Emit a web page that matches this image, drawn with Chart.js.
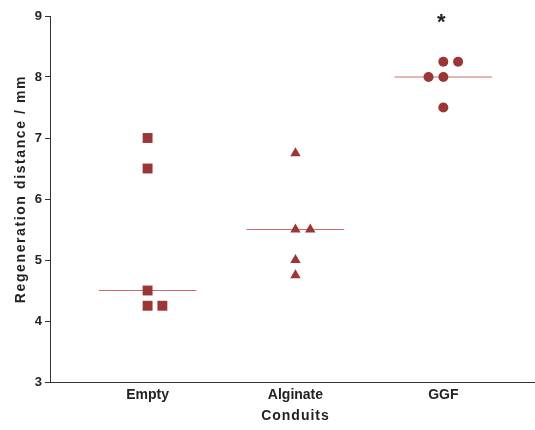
<!DOCTYPE html>
<html>
<head>
<meta charset="utf-8">
<script src="https://cdn.jsdelivr.net/npm/chart.js@4.4.1/dist/chart.umd.min.js"></script>
<style>
  html, body { margin: 0; padding: 0; background: #fff; overflow: hidden; }
  canvas { display: block; }
</style>
</head>
<body>
<canvas id="c" width="535" height="430" style="width:535px;height:430px"></canvas>
<script>
const categories = ['Empty', 'Alginate', 'GGF'];
const emptyValues = [7, 6.5, 4.5, 4.25, 4.25];
const emptyJitter = [0, 0, 0, 0, 0.1];
const alginateValues = [6.75, 5.5, 5.5, 5.0, 4.75];
const alginateJitter = [0, 0, 0.1, 0, 0];
const ggfValues = [8.25, 8.25, 8.0, 8.0, 7.5];
const ggfJitter = [0, 0.1, -0.1, 0, 0];
const medians = [4.5, 5.5, 8.0];
const yTicks = [3, 4, 5, 6, 7, 8, 9];
const yTitle = 'Regeneration distance / mm';
const xTitle = 'Conduits';
const significance = [{ category: 'GGF', label: '*', y: 8.97 }];

const markerColor = '#9c3535';
const medianColor = '#cc6a6a';
const axisColor = '#333333';
const FONT = '"Liberation Sans", Arial, sans-serif';

function pts(cat, vals, jit) {
  const i = categories.indexOf(cat) + 1;
  return vals.map((v, k) => ({ x: i + jit[k], y: v }));
}
function medianLine(k) {
  const i = k + 1;
  return {
    type: 'line',
    data: [{ x: i - 0.33, y: medians[k] }, { x: i + 0.33, y: medians[k] }],
    borderColor: medianColor,
    borderWidth: 1,
    pointRadius: 0,
    showLine: true,
    order: 2
  };
}

const textPlugin = {
  id: 'texts',
  afterDraw(chart) {
    const { ctx, scales } = chart;
    ctx.save();
    ctx.fillStyle = '#222';
    ctx.font = 'bold 14px ' + FONT;
    if ('letterSpacing' in ctx) ctx.letterSpacing = '1.6px';
    ctx.textAlign = 'center';
    ctx.textBaseline = 'middle';
    ctx.translate(21, 189);
    ctx.rotate(-Math.PI / 2);
    ctx.fillText(yTitle, 0, 0);
    ctx.restore();

    ctx.save();
    ctx.fillStyle = '#222';
    ctx.font = 'bold 14px ' + FONT;
    if ('letterSpacing' in ctx) ctx.letterSpacing = '1px';
    ctx.textAlign = 'center';
    ctx.textBaseline = 'middle';
    ctx.fillText(xTitle, scales.x.getPixelForValue(2), 416);
    ctx.restore();

    ctx.save();
    ctx.fillStyle = '#222';
    ctx.font = 'bold 22px ' + FONT;
    ctx.textAlign = 'center';
    ctx.textBaseline = 'middle';
    significance.forEach(s => {
      const x = scales.x.getPixelForValue(categories.indexOf(s.category) + 1);
      const y = scales.y.getPixelForValue(s.y);
      ctx.fillText(s.label, x - 2, y + 5);
    });
    ctx.restore();
  }
};

new Chart(document.getElementById('c'), {
  type: 'scatter',
  data: {
    datasets: [
      medianLine(0), medianLine(1), medianLine(2),
      { data: pts('Empty', emptyValues, emptyJitter), pointStyle: 'rect', pointRadius: 7, backgroundColor: markerColor, borderColor: markerColor, borderWidth: 0, order: 1 },
      { data: pts('Alginate', alginateValues, alginateJitter), pointStyle: 'triangle', pointRadius: 6, backgroundColor: markerColor, borderColor: markerColor, borderWidth: 0, order: 1 },
      { data: pts('GGF', ggfValues, ggfJitter), pointStyle: 'circle', pointRadius: 5, backgroundColor: markerColor, borderColor: markerColor, borderWidth: 0, order: 1 }
    ]
  },
  options: {
    responsive: false,
    maintainAspectRatio: false,
    devicePixelRatio: 1,
    animation: false,
    layout: { autoPadding: false, padding: { top: 16, right: 0, bottom: 0, left: 0 } },
    plugins: { legend: { display: false }, tooltip: { enabled: false } },
    scales: {
      x: {
        type: 'linear',
        min: 0.34,
        max: 3.62,
        afterBuildTicks(scale) { scale.ticks = categories.map((c, i) => ({ value: i + 1 })); },
        afterFit(scale) { scale.height = 48; },
        ticks: {
          callback: (v) => categories[v - 1],
          color: '#222',
          font: { family: FONT, size: 14, weight: 'bold' },
          padding: 5,
          maxRotation: 0,
          autoSkip: false
        },
        grid: { display: true, drawOnChartArea: false, drawTicks: false, color: axisColor },
        border: { display: true, color: axisColor, width: 1 },
        title: { display: false }
      },
      y: {
        min: 3,
        max: 9,
        afterBuildTicks(scale) { scale.ticks = yTicks.map(v => ({ value: v })); },
        afterFit(scale) { scale.width = 50; },
        ticks: {
          color: '#222',
          font: { family: FONT, size: 13, weight: 'bold' },
          padding: 3
        },
        grid: { display: true, drawOnChartArea: false, drawTicks: true, tickLength: 5, color: axisColor },
        border: { display: true, color: axisColor, width: 1 },
        title: { display: false }
      }
    }
  },
  plugins: [textPlugin]
});
</script>
</body>
</html>
